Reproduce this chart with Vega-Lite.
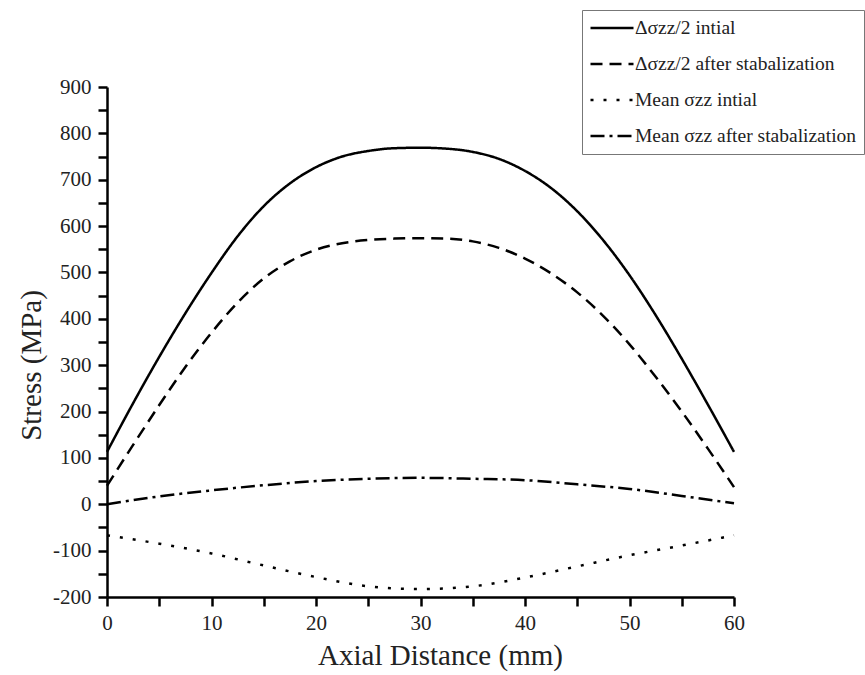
{
  "$schema": "https://vega.github.io/schema/vega-lite/v6.json",
  "width": 627,
  "height": 510,
  "autosize": {"type": "none"},
  "padding": {"left": 107, "top": 87, "right": 131, "bottom": 78},
  "background": "white",
  "config": {"view": {"stroke": null}, "font": "Liberation Serif"},
  "data": {
    "values": [
      {"series": "Δσzz/2 intial", "x": 0, "y": 113},
      {"series": "Δσzz/2 intial", "x": 2.5, "y": 218},
      {"series": "Δσzz/2 intial", "x": 5, "y": 318},
      {"series": "Δσzz/2 intial", "x": 7.5, "y": 412},
      {"series": "Δσzz/2 intial", "x": 10, "y": 499},
      {"series": "Δσzz/2 intial", "x": 12.5, "y": 578},
      {"series": "Δσzz/2 intial", "x": 15, "y": 643},
      {"series": "Δσzz/2 intial", "x": 17.5, "y": 692},
      {"series": "Δσzz/2 intial", "x": 20, "y": 727},
      {"series": "Δσzz/2 intial", "x": 22.5, "y": 750},
      {"series": "Δσzz/2 intial", "x": 25, "y": 762},
      {"series": "Δσzz/2 intial", "x": 27.5, "y": 768},
      {"series": "Δσzz/2 intial", "x": 30, "y": 769},
      {"series": "Δσzz/2 intial", "x": 32.5, "y": 767},
      {"series": "Δσzz/2 intial", "x": 35, "y": 760},
      {"series": "Δσzz/2 intial", "x": 37.5, "y": 745},
      {"series": "Δσzz/2 intial", "x": 40, "y": 719},
      {"series": "Δσzz/2 intial", "x": 42.5, "y": 682},
      {"series": "Δσzz/2 intial", "x": 45, "y": 632},
      {"series": "Δσzz/2 intial", "x": 47.5, "y": 569},
      {"series": "Δσzz/2 intial", "x": 50, "y": 494},
      {"series": "Δσzz/2 intial", "x": 52.5, "y": 408},
      {"series": "Δσzz/2 intial", "x": 55, "y": 314},
      {"series": "Δσzz/2 intial", "x": 57.5, "y": 215},
      {"series": "Δσzz/2 intial", "x": 60, "y": 113},
      {"series": "Δσzz/2 after stabalization", "x": 0, "y": 40},
      {"series": "Δσzz/2 after stabalization", "x": 2.5, "y": 128},
      {"series": "Δσzz/2 after stabalization", "x": 5, "y": 214},
      {"series": "Δσzz/2 after stabalization", "x": 7.5, "y": 296},
      {"series": "Δσzz/2 after stabalization", "x": 10, "y": 370},
      {"series": "Δσzz/2 after stabalization", "x": 12.5, "y": 435},
      {"series": "Δσzz/2 after stabalization", "x": 15, "y": 487},
      {"series": "Δσzz/2 after stabalization", "x": 17.5, "y": 524},
      {"series": "Δσzz/2 after stabalization", "x": 20, "y": 549},
      {"series": "Δσzz/2 after stabalization", "x": 22.5, "y": 563},
      {"series": "Δσzz/2 after stabalization", "x": 25, "y": 570},
      {"series": "Δσzz/2 after stabalization", "x": 27.5, "y": 573},
      {"series": "Δσzz/2 after stabalization", "x": 30, "y": 574},
      {"series": "Δσzz/2 after stabalization", "x": 32.5, "y": 573},
      {"series": "Δσzz/2 after stabalization", "x": 35, "y": 567},
      {"series": "Δσzz/2 after stabalization", "x": 37.5, "y": 553},
      {"series": "Δσzz/2 after stabalization", "x": 40, "y": 530},
      {"series": "Δσzz/2 after stabalization", "x": 42.5, "y": 498},
      {"series": "Δσzz/2 after stabalization", "x": 45, "y": 457},
      {"series": "Δσzz/2 after stabalization", "x": 47.5, "y": 406},
      {"series": "Δσzz/2 after stabalization", "x": 50, "y": 345},
      {"series": "Δσzz/2 after stabalization", "x": 52.5, "y": 275},
      {"series": "Δσzz/2 after stabalization", "x": 55, "y": 200},
      {"series": "Δσzz/2 after stabalization", "x": 57.5, "y": 120},
      {"series": "Δσzz/2 after stabalization", "x": 60, "y": 37},
      {"series": "Mean σzz intial", "x": 0, "y": -67},
      {"series": "Mean σzz intial", "x": 5, "y": -85},
      {"series": "Mean σzz intial", "x": 10, "y": -106},
      {"series": "Mean σzz intial", "x": 15, "y": -132},
      {"series": "Mean σzz intial", "x": 20, "y": -157},
      {"series": "Mean σzz intial", "x": 25, "y": -177},
      {"series": "Mean σzz intial", "x": 30, "y": -183},
      {"series": "Mean σzz intial", "x": 35, "y": -177},
      {"series": "Mean σzz intial", "x": 40, "y": -158},
      {"series": "Mean σzz intial", "x": 45, "y": -134},
      {"series": "Mean σzz intial", "x": 50, "y": -110},
      {"series": "Mean σzz intial", "x": 55, "y": -89},
      {"series": "Mean σzz intial", "x": 60, "y": -67},
      {"series": "Mean σzz after stabalization", "x": 0, "y": 0},
      {"series": "Mean σzz after stabalization", "x": 5, "y": 17},
      {"series": "Mean σzz after stabalization", "x": 10, "y": 30},
      {"series": "Mean σzz after stabalization", "x": 15, "y": 41},
      {"series": "Mean σzz after stabalization", "x": 20, "y": 50},
      {"series": "Mean σzz after stabalization", "x": 25, "y": 55},
      {"series": "Mean σzz after stabalization", "x": 30, "y": 57},
      {"series": "Mean σzz after stabalization", "x": 35, "y": 55},
      {"series": "Mean σzz after stabalization", "x": 40, "y": 52},
      {"series": "Mean σzz after stabalization", "x": 45, "y": 43},
      {"series": "Mean σzz after stabalization", "x": 50, "y": 33},
      {"series": "Mean σzz after stabalization", "x": 55, "y": 18},
      {"series": "Mean σzz after stabalization", "x": 60, "y": 2}
    ]
  },
  "mark": {"type": "line", "color": "black", "strokeWidth": 2.5, "interpolate": "monotone", "strokeCap": "butt"},
  "encoding": {
    "x": {
      "field": "x", "type": "quantitative",
      "scale": {"domain": [0, 60], "nice": false},
      "axis": {
        "title": "Axial Distance (mm)",
        "values": [0, 5, 10, 15, 20, 25, 30, 35, 40, 45, 50, 55, 60],
        "labelExpr": "datum.value % 10 === 0 ? '' + datum.value : ''",
        "grid": false,
        "domainColor": "black", "domainWidth": 2.5,
        "tickColor": "black", "tickWidth": 2.5, "tickSize": 9,
        "encode": {"ticks": {"update": {"y2": {"signal": "datum.value % 10 === 0 ? 9 : 5"}}}},
        "labelFontSize": 21, "labelColor": "#222", "labelPadding": 6, "labelFlush": false,
        "titleFontSize": 29, "titleFontWeight": "normal", "titleColor": "#222", "titlePadding": 8,
        "titleX": 333
      }
    },
    "y": {
      "field": "y", "type": "quantitative",
      "scale": {"domain": [-200, 900], "nice": false},
      "axis": {
        "title": "Stress (MPa)",
        "values": [-200, -150, -100, -50, 0, 50, 100, 150, 200, 250, 300, 350, 400, 450, 500, 550, 600, 650, 700, 750, 800, 850, 900],
        "labelExpr": "datum.value % 100 === 0 ? '' + datum.value : ''",
        "grid": false,
        "domainColor": "black", "domainWidth": 2.5,
        "tickColor": "black", "tickWidth": 2.5, "tickSize": 9,
        "encode": {"ticks": {"update": {"x2": {"signal": "datum.value % 100 === 0 ? -9 : -5"}}}},
        "labelFontSize": 21, "labelColor": "#222", "labelPadding": 7, "labelFlush": false,
        "titleFontSize": 29, "titleFontWeight": "normal", "titleColor": "#222", "titlePadding": 6,
        "titleY": 278
      }
    },
    "strokeDash": {
      "field": "series", "type": "nominal",
      "scale": {
        "domain": ["Δσzz/2 intial", "Δσzz/2 after stabalization", "Mean σzz intial", "Mean σzz after stabalization"],
        "range": [[1, 0], [12, 7], [3, 10], [14, 5, 3, 5]]
      },
      "legend": {
        "title": null,
        "orient": "none",
        "legendX": 475,
        "legendY": -77,
        "strokeColor": "#777",
        "padding": 7,
        "symbolType": "stroke",
        "symbolSize": 1849,
        "symbolStrokeWidth": 2.5,
        "symbolStrokeColor": "black",
        "clipHeight": 22,
        "labelFontSize": 19.5,
        "labelColor": "#222",
        "labelOffset": 0,
        "rowPadding": 14,
        "labelLimit": 400
      }
    }
  }
}
